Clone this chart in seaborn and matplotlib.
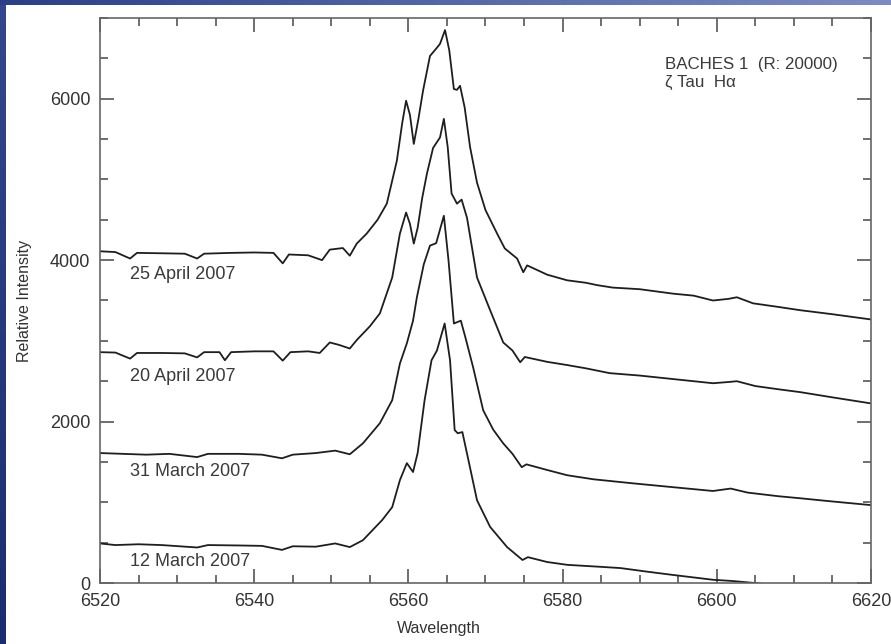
import numpy as np
import pandas as pd
import matplotlib
matplotlib.use("Agg")
import matplotlib.pyplot as plt
import seaborn as sns
from matplotlib.colors import LinearSegmentedColormap

# spectra (wavelength in A, relative intensity)
wl_25apr = [6520, 6522, 6523.9, 6524.8, 6528, 6531, 6532.6, 6533.5, 6537, 6540, 6542.5, 6543.7,
            6544.5, 6547, 6548.8, 6549.8, 6551.5, 6552.4, 6553.3, 6554.6, 6556, 6557.2, 6558.5,
            6559.2, 6559.7, 6560.2, 6560.7, 6561.3, 6561.9, 6562.8, 6563.6, 6564.1, 6564.75,
            6565.3, 6565.9, 6566.3, 6566.7, 6567.3, 6568.0, 6568.9, 6570.0, 6571.5, 6572.5,
            6574.1, 6574.9, 6575.4, 6578, 6580.6, 6583, 6584.5, 6586.5, 6590, 6594.3, 6597,
            6599.5, 6601.5, 6602.6, 6604.7, 6608, 6610.8, 6615, 6620]
int_25apr = [4110, 4100, 4020, 4090, 4085, 4080, 4020, 4080, 4090, 4095, 4090, 3960,
             4070, 4060, 4000, 4130, 4150, 4055, 4205, 4330, 4500, 4700, 5230,
             5700, 5975, 5800, 5440, 5750, 6100, 6530, 6620, 6680, 6850,
             6600, 6120, 6110, 6160, 5890, 5400, 4960, 4620, 4330, 4145,
             4020, 3850, 3935, 3820, 3750, 3720, 3690, 3660, 3640, 3585, 3560,
             3500, 3520, 3540, 3465, 3420, 3380, 3330, 3265]

wl_20apr = [6520, 6522, 6523.9, 6524.8, 6528, 6531, 6532.6, 6533.5, 6535.5, 6536.2, 6537, 6540,
            6542.5, 6543.7, 6544.7, 6547, 6548.5, 6549.8, 6551, 6552.4, 6553.3, 6555, 6556.3,
            6557.9, 6558.9, 6559.7, 6560.2, 6560.7, 6561.2, 6561.8, 6562.4, 6563.2, 6564.1,
            6564.6, 6565.1, 6565.6, 6566.3, 6566.9, 6567.6, 6568.9, 6570.6, 6572.3, 6573.5,
            6574.5, 6575.1, 6578, 6580.6, 6583, 6586.1, 6590, 6593.5, 6597, 6599.5, 6601.5,
            6602.6, 6605, 6608, 6610.8, 6615, 6620]
int_20apr = [2860, 2855, 2780, 2850, 2850, 2845, 2795, 2860, 2860, 2760, 2860, 2870,
             2870, 2755, 2860, 2870, 2850, 2980, 2950, 2905, 3010, 3180, 3340,
             3785, 4330, 4590, 4450, 4205, 4400, 4775, 5070, 5390, 5520,
             5750, 5400, 4825, 4700, 4750, 4525, 3785, 3380, 2980, 2880,
             2735, 2800, 2740, 2700, 2660, 2600, 2570, 2535, 2500, 2475, 2490,
             2500, 2440, 2400, 2365, 2300, 2225]

wl_31mar = [6520, 6523, 6526, 6529, 6532.6, 6534, 6538, 6541, 6543.6, 6545, 6548, 6550.5,
            6552.4, 6554.1, 6556.3, 6557.9, 6558.9, 6559.8, 6560.6, 6561.1, 6562.0, 6562.8,
            6563.6, 6564.6, 6565.2, 6565.9, 6566.8, 6567.4, 6568.4, 6569.7, 6571, 6572.3,
            6573.5, 6574.7, 6575.3, 6578, 6580.6, 6584, 6589.1, 6594, 6599.5, 6601.8, 6604,
            6608, 6610.8, 6615, 6620]
int_31mar = [1610, 1600, 1590, 1600, 1560, 1600, 1600, 1590, 1545, 1590, 1610, 1640,
             1595, 1730, 1980, 2265, 2720, 2970, 3250, 3540, 3950, 4180,
             4210, 4550, 4000, 3215, 3250, 3040, 2670, 2140, 1900, 1730,
             1600, 1435, 1470, 1400, 1335, 1285, 1235, 1190, 1140, 1170, 1120,
             1075, 1050, 1010, 965]

wl_12mar = [6520, 6522, 6525, 6528, 6532.6, 6534, 6538, 6541, 6543.6, 6545, 6548, 6550.5,
            6552.4, 6554.1, 6556.6, 6557.9, 6558.9, 6559.8, 6560.6, 6561.2, 6562.1, 6563.0,
            6563.7, 6564.7, 6565.4, 6566.0, 6566.4, 6567.0, 6567.7, 6568.9, 6570.6, 6572.8,
            6574.8, 6575.5, 6578, 6580.6, 6585, 6587.5, 6591, 6594.3, 6599.5, 6602, 6605.5,
            6610, 6620]
int_12mar = [490, 470, 480, 470, 440, 470, 465, 460, 410, 455, 450, 490,
             445, 530, 780, 940, 1275, 1485, 1375, 1610, 2265, 2760,
             2880, 3215, 2760, 1895, 1855, 1870, 1560, 1025, 695, 445,
             285, 320, 260, 225, 200, 185, 140, 100, 40, 25, -5,
             -60, -150]

dates = ["25 April 2007", "20 April 2007", "31 March 2007", "12 March 2007"]
label_y = [3820, 2560, 1385, 272]

frames = []
for d, w, v in zip(dates, [wl_25apr, wl_20apr, wl_31mar, wl_12mar],
                   [int_25apr, int_20apr, int_31mar, int_12mar]):
    frames.append(pd.DataFrame({"Wavelength": w, "Intensity": v, "date": d}))
df = pd.concat(frames, ignore_index=True)

sns.set_style("ticks", {"xtick.direction": "in", "ytick.direction": "in"})
plt.rcParams["font.family"] = ["Liberation Sans", "DejaVu Sans"]

fig = plt.figure(figsize=(8.91, 6.44), dpi=100, facecolor="white")

# blue slide border on the left and top
lb = fig.add_axes([0, 0, 6 / 891, 1])
lb.imshow(np.linspace(0, 1, 100).reshape(-1, 1), aspect="auto",
          cmap=LinearSegmentedColormap.from_list("l", ["#1b2c70", "#34478c"]), origin="lower")
lb.axis("off")
tb = fig.add_axes([0, 1 - 5 / 644, 1, 5 / 644])
tb.imshow(np.linspace(0, 1, 200).reshape(1, -1), aspect="auto",
          cmap=LinearSegmentedColormap.from_list("t", ["#2c3f86", "#5468a6", "#7d8cc0"]))
tb.axis("off")

ax = fig.add_axes([100 / 891, (644 - 583) / 644, 771 / 891, 565 / 644])
for d in dates:
    sns.lineplot(data=df[df["date"] == d], x="Wavelength", y="Intensity", ax=ax,
                 color="#1e1e1e", linewidth=1.3, sort=False, estimator=None)

ax.set_xlim(6520, 6620)
ax.set_ylim(0, 7000)
ax.set_xticks([6520, 6540, 6560, 6580, 6600, 6620])
ax.set_xticks(np.arange(6520, 6621, 5), minor=True)
ax.set_yticks([0, 2000, 4000, 6000])
ax.set_yticks(np.arange(0, 7001, 500), minor=True)
ax.tick_params(which="both", direction="in", top=True, right=True, colors="#555555",
               labelcolor="#333333", labelsize=13, width=1.2)
ax.tick_params(which="major", length=10)
ax.tick_params(which="minor", length=6)
ax.tick_params(axis="y", pad=7)
ax.tick_params(axis="x", pad=7)
for s in ax.spines.values():
    s.set_color("#666666")
    s.set_linewidth(1.2)

ax.set_xlabel("Wavelength", fontsize=11.5, color="#333333")
ax.set_ylabel("Relative Intensity", fontsize=11.5, color="#333333")
ax.xaxis.set_label_coords(0.44, -0.067)
ax.yaxis.set_label_coords(-0.088, 0.5)

for d, yy in zip(dates, label_y):
    ax.text(6523.9, yy, d, fontsize=13, color="#3a3a3a", va="center", ha="left")

ax.text(6593.3, 6420, "BACHES 1  (R: 20000)", fontsize=12.2, color="#3a3a3a", va="center")
ax.text(6593.3, 6200, "ζ Tau  Hα", fontsize=12.2, color="#3a3a3a", va="center")

fig.savefig("out.png", dpi=100, facecolor="white")
